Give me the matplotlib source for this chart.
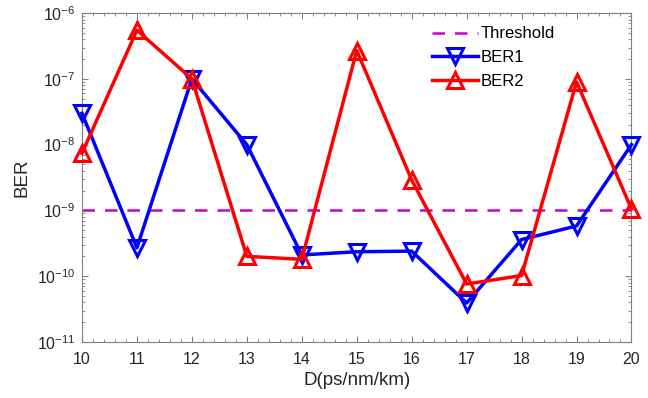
import matplotlib
matplotlib.use("Agg")
import matplotlib.pyplot as plt
from matplotlib.ticker import LogLocator, MultipleLocator, NullFormatter, LogFormatterSciNotation

plt.rcParams['font.family'] = ['Liberation Sans', 'DejaVu Sans']

D = [10, 11, 12, 13, 14, 15, 16, 17, 18, 19, 20]
ber1 = [3.0e-8, 2.7e-10, 1.0e-7, 1.0e-8, 2.1e-10, 2.35e-10, 2.4e-10, 3.9e-11, 3.6e-10, 5.8e-10, 1.0e-8]
ber2 = [7.4e-9, 5.5e-7, 1.0e-7, 2.0e-10, 1.8e-10, 2.7e-7, 2.9e-9, 7.6e-11, 1.02e-10, 9.0e-8, 1.05e-9]
threshold = 1e-9
yticks = [1e-11, 1e-10, 1e-9, 1e-8, 1e-7, 1e-6]

fig = plt.figure(figsize=(6.48, 3.98), dpi=100)
ax = fig.add_axes([0.1265, 0.141, 0.848, 0.826])

ax.plot([D[0], D[-1]], [threshold, threshold], '--', color='#CC00CC', lw=1.8,
        dashes=(5, 4), label='Threshold')
ax.plot(D, ber1, '-v', color='#0000FF', lw=2.5, ms=11, mfc='none', mew=2.2, label='BER1',
        clip_on=False, zorder=3)
ax.plot(D, ber2, '-^', color='#FF0000', lw=2.5, ms=11, mfc='none', mew=2.2, label='BER2',
        clip_on=False, zorder=3)

ax.set_yscale('log')
ax.set_ylim(yticks[0], yticks[-1])
ax.set_xlim(D[0], D[-1])
ax.set_xticks(D)
ax.xaxis.set_minor_locator(MultipleLocator(0.2))
ax.set_yticks(yticks)
ax.yaxis.set_major_formatter(LogFormatterSciNotation())
ax.yaxis.set_minor_locator(LogLocator(base=10, subs=range(2, 10), numticks=10))
ax.yaxis.set_minor_formatter(NullFormatter())

ax.tick_params(which='both', direction='in', top=True, right=True, colors='#808080',
               labelcolor='#262626', labelsize=11.5)
ax.tick_params(axis='x', which='major', pad=7)
ax.tick_params(axis='y', which='major', pad=5)
ax.tick_params(which='major', length=4, width=0.8)
ax.tick_params(which='minor', length=2.2, width=0.6)
for s in ax.spines.values():
    s.set_color('#808080')
    s.set_linewidth(0.8)

ax.set_xlabel('D(ps/nm/km)', fontsize=13.5, color='#262626', labelpad=4)
ax.set_ylabel('BER', fontsize=13.5, color='#262626', labelpad=4)

leg = ax.legend(loc='upper left', bbox_to_anchor=(0.615, 0.995), frameon=False, fontsize=12,
                handlelength=2.8, handletextpad=0.15, labelspacing=0.52, borderaxespad=0.3)

fig.savefig('out.png', dpi=100)
